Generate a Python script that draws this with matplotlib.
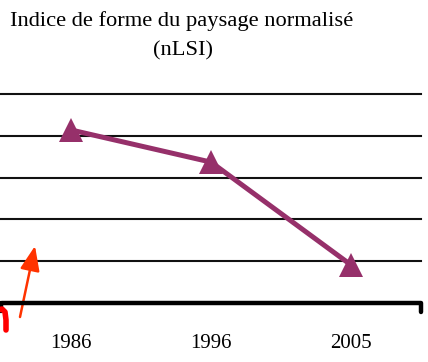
import matplotlib
matplotlib.use("Agg")
import matplotlib.pyplot as plt
from matplotlib.lines import Line2D
from matplotlib.transforms import IdentityTransform

years = ["1986", "1996", "2005"]
nlsi = [0.414, 0.337, 0.091]
grid_levels = [0.1, 0.2, 0.3, 0.4, 0.5]

W, H = 428, 362
fig = plt.figure(figsize=(W / 100, H / 100), dpi=100)
ax = fig.add_axes([1 / W, (H - 303) / H, 420 / W, (303 - 94) / H])

x = range(len(years))
ax.set_xlim(-0.5, len(years) - 0.5)
ax.set_ylim(0, 0.5)

# horizontal grid
for g in grid_levels:
    ax.axhline(g, color="#111111", lw=1.5, zorder=1, clip_on=False)

ax.plot(x, nlsi, color="#96306A", lw=3.6, marker="^", ms=17,
        markeredgewidth=0, zorder=3, solid_capstyle="butt")

for s in ax.spines.values():
    s.set_visible(False)
ax.set_yticks([])
ax.set_xticks(list(x))
ax.set_xticklabels(years, fontsize=15, family="Liberation Serif")
ax.tick_params(axis="x", length=0, pad=22)

# category axis with end ticks
axis = Line2D([2, 421, 421], [H - 303, H - 303, H - 312], transform=IdentityTransform(),
              color="black", lw=3.2, solid_capstyle="round", solid_joinstyle="round")
fig.add_artist(axis)
left_tick = Line2D([1, 1], [H - 303, H - 311], transform=IdentityTransform(),
                   color="black", lw=3.2, solid_capstyle="round")
fig.add_artist(left_tick)

fig.text(182 / W, 1 - 21 / H, "Indice de forme du paysage normalisé", ha="center", va="center",
         fontsize=16.2, family="Liberation Serif")
fig.text(183 / W, 1 - 51 / H, "(nLSI)", ha="center", va="center",
         fontsize=16.2, family="Liberation Serif")

# red hand-drawn marks
ax.annotate("", xy=(35, H - 246), xytext=(20, H - 317),
            xycoords="figure pixels", textcoords="figure pixels",
            arrowprops=dict(arrowstyle="-|>,head_length=1.5,head_width=0.6",
                            color="#FF3300", lw=1.8, shrinkA=0, shrinkB=0),
            annotation_clip=False)
hook = Line2D([-2, 2, 5, 6, 6], [H - 310, H - 309, H - 312, H - 320, H - 330],
              transform=IdentityTransform(), color="#FF0000", lw=4,
              solid_capstyle="round", solid_joinstyle="round")
fig.add_artist(hook)

fig.savefig("out.png", dpi=100)
